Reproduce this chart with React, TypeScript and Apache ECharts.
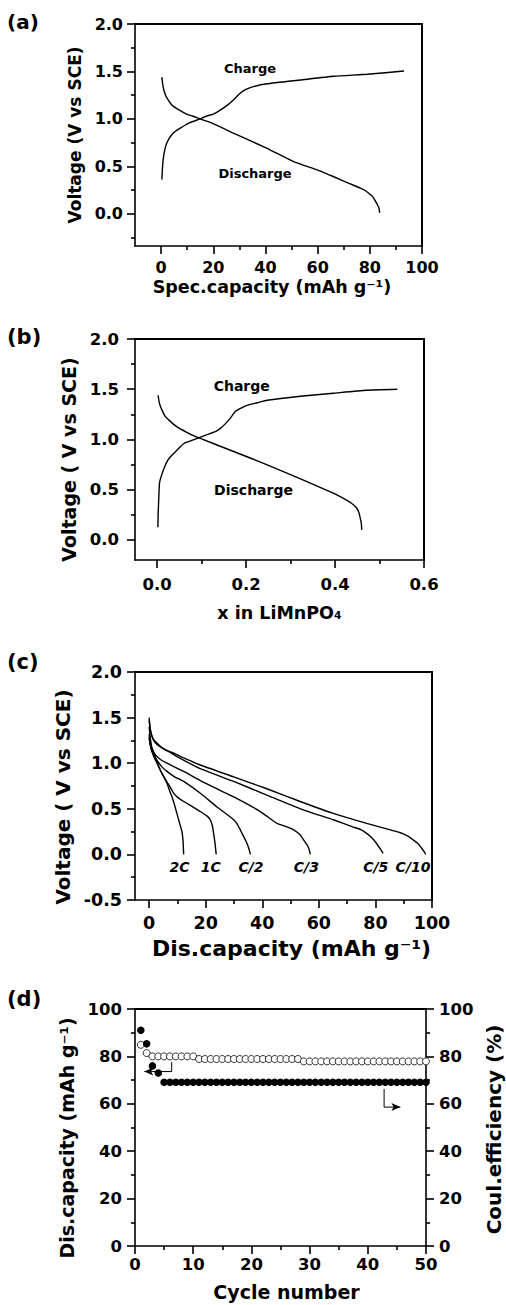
import React, { useEffect, useRef } from "react";
import * as echarts from "echarts";

const FONT = "DejaVu Sans";
const BLACK = "#000";

// ---------- Panel (a): voltage vs specific capacity ----------
const aChargeCap = [0.3, 0.5, 0.8, 1.3, 2.1, 3.0, 4.0, 5.5, 7.2, 9.0, 11.0, 13.0, 14.9, 17.5, 20.0, 22.5, 25.2, 27.7, 30.3, 32.5, 35.4, 40.6, 53.4, 66.2, 79.0, 93.1];
const aChargeV = [0.36, 0.47, 0.57, 0.66, 0.74, 0.79, 0.83, 0.87, 0.9, 0.93, 0.96, 0.98, 1.0, 1.03, 1.05, 1.09, 1.14, 1.2, 1.27, 1.31, 1.34, 1.37, 1.41, 1.45, 1.47, 1.505];
const aDischCap = [0.3, 0.6, 1.0, 1.7, 2.7, 4.0, 5.9, 7.8, 9.8, 12.0, 14.9, 20.0, 27.7, 40.6, 50.8, 60.0, 66.2, 72.0, 76.4, 78.5, 80.3, 81.4, 82.2, 83.0, 83.5, 83.8];
const aDischV = [1.44, 1.37, 1.31, 1.25, 1.2, 1.15, 1.11, 1.08, 1.05, 1.03, 1.0, 0.95, 0.85, 0.69, 0.55, 0.46, 0.39, 0.32, 0.27, 0.24, 0.2, 0.17, 0.13, 0.09, 0.06, 0.01];
const aLabelText = ["Charge", "Discharge"];
const aLabelX = [34.1, 36.0];
const aLabelY = [1.526, 0.42];

// ---------- Panel (b): voltage vs x in LiMnPO4 ----------
const bChargeX = [0.0015, 0.002, 0.003, 0.005, 0.008, 0.011, 0.016, 0.022, 0.03, 0.037, 0.048, 0.06, 0.075, 0.09, 0.105, 0.12, 0.132, 0.142, 0.153, 0.164, 0.176, 0.19, 0.202, 0.225, 0.247, 0.322, 0.396, 0.47, 0.54];
const bChargeV = [0.126, 0.25, 0.365, 0.565, 0.62, 0.66, 0.72, 0.78, 0.83, 0.86, 0.91, 0.96, 0.985, 1.01, 1.035, 1.06, 1.08, 1.11, 1.155, 1.21, 1.28, 1.315, 1.34, 1.365, 1.39, 1.43, 1.46, 1.49, 1.5];
const bDischX = [0.002, 0.004, 0.007, 0.012, 0.018, 0.027, 0.037, 0.05, 0.067, 0.08, 0.097, 0.172, 0.246, 0.321, 0.396, 0.42, 0.437, 0.448, 0.453, 0.456, 0.459, 0.46];
const bDischV = [1.44, 1.38, 1.33, 1.28, 1.23, 1.19, 1.15, 1.11, 1.07, 1.04, 1.01, 0.88, 0.75, 0.61, 0.465, 0.41, 0.365, 0.32, 0.28, 0.23, 0.166, 0.1];
const bLabelText = ["Charge", "Discharge"];
const bLabelX = [0.19, 0.2166];
const bLabelY = [1.535, 0.495];

// ---------- Panel (c): discharge curves at several rates ----------
const cC10Cap = [0, 0.2, 0.5, 1.0, 1.6, 2.6, 4.0, 6.0, 8.7, 12.0, 18.1, 29.9, 41.6, 53.4, 65.1, 76.9, 84.0, 88.6, 91.5, 93.3, 95.0, 96.3, 97.2, 97.8];
const cC10V = [1.5, 1.43, 1.36, 1.3, 1.25, 1.21, 1.18, 1.14, 1.11, 1.06, 0.98, 0.85, 0.72, 0.58, 0.45, 0.34, 0.28, 0.24, 0.2, 0.16, 0.12, 0.07, 0.03, 0.0];
const cC5Cap = [0, 0.3, 0.7, 1.5, 2.8, 4.5, 6.3, 10.0, 18.1, 29.9, 41.6, 53.4, 65.1, 72.2, 75.0, 76.9, 78.8, 80.4, 81.7, 82.7];
const cC5V = [1.47, 1.39, 1.32, 1.26, 1.22, 1.17, 1.14, 1.07, 0.94, 0.8, 0.65, 0.5, 0.38, 0.3, 0.27, 0.23, 0.18, 0.12, 0.06, 0.01];
const cC3Cap = [0, 0.4, 0.9, 1.8, 2.8, 4.5, 6.3, 12.2, 18.1, 29.9, 39.3, 45.2, 48.0, 51.1, 53.2, 54.6, 55.7, 56.4, 57.0];
const cC3V = [1.4, 1.28, 1.18, 1.11, 1.07, 1.03, 1.0, 0.91, 0.81, 0.63, 0.47, 0.34, 0.31, 0.27, 0.22, 0.16, 0.11, 0.07, 0.0];
const cC2Cap = [0, 0.4, 0.9, 1.8, 2.8, 4.5, 6.3, 9.0, 12.2, 18.1, 24.0, 29.9, 31.2, 32.2, 33.5, 34.6, 35.3, 35.8];
const cC2V = [1.32, 1.22, 1.14, 1.08, 1.03, 0.96, 0.91, 0.85, 0.8, 0.67, 0.52, 0.38, 0.33, 0.27, 0.19, 0.12, 0.06, 0.0];
const c1CCap = [0, 0.4, 0.9, 1.8, 2.8, 4.0, 5.2, 7.0, 8.7, 10.3, 12.2, 15.0, 18.1, 20.5, 21.6, 22.3, 22.8, 23.3, 23.7];
const c1CV = [1.29, 1.2, 1.14, 1.06, 1.0, 0.92, 0.85, 0.76, 0.67, 0.62, 0.58, 0.53, 0.47, 0.42, 0.38, 0.32, 0.23, 0.12, 0.0];
const c2CCap = [0, 0.6, 1.6, 2.8, 4.0, 5.2, 6.3, 7.2, 8.1, 9.0, 9.8, 10.7, 11.6, 12.0, 12.2];
const c2CV = [1.27, 1.18, 1.11, 1.01, 0.92, 0.85, 0.78, 0.7, 0.63, 0.54, 0.45, 0.35, 0.25, 0.14, 0.0];
const cRateLabels = ["2C", "1C", "C/2", "C/3", "C/5", "C/10"];
const cRateLabelX = [10.75, 21.8, 36.0, 55.6, 80.1, 93.3];
const cRateLabelY = [-0.136, -0.136, -0.136, -0.136, -0.136, -0.136];

// ---------- Panel (d): cycling ----------
const dCycles = [
  1, 2, 3, 4, 5, 6, 7, 8, 9, 10,
  11, 12, 13, 14, 15, 16, 17, 18, 19, 20,
  21, 22, 23, 24, 25, 26, 27, 28, 29, 30,
  31, 32, 33, 34, 35, 36, 37, 38, 39, 40,
  41, 42, 43, 44, 45, 46, 47, 48, 49, 50,
];
const dCapacity = [
  91.0, 85.3, 76.0, 73.0, 69.1, 69.1, 69.1, 69.1, 69.1, 69.1,
  69.1, 69.1, 69.1, 69.1, 69.1, 69.1, 69.1, 69.1, 69.1, 69.1,
  69.1, 69.1, 69.1, 69.1, 69.1, 69.1, 69.1, 69.1, 69.1, 69.1,
  69.1, 69.1, 69.1, 69.1, 69.1, 69.1, 69.1, 69.1, 69.1, 69.1,
  69.1, 69.1, 69.1, 69.1, 69.1, 69.1, 69.1, 69.1, 69.1, 69.1,
];
const dEfficiency = [
  84.9, 81.4, 80.0, 80.0, 80.0, 80.0, 80.0, 80.0, 80.0, 80.0,
  78.9, 78.9, 78.9, 78.9, 78.9, 78.9, 78.9, 78.9, 78.9, 78.9,
  78.9, 78.9, 78.9, 78.9, 78.9, 78.9, 78.9, 78.9, 77.9, 77.9,
  77.9, 77.9, 77.9, 77.9, 77.9, 77.9, 77.9, 77.9, 77.9, 77.9,
  77.9, 77.9, 77.9, 77.9, 77.9, 77.9, 77.9, 77.9, 77.9, 77.9,
];
// indicator arrows (cycle, value)
const dLeftArrowX = [6.3, 6.3, 1.6];
const dLeftArrowY = [77.6, 73.6, 73.6];
const dRightArrowX = [42.8, 42.8, 45.6];
const dRightArrowY = [66.2, 58.6, 58.6];

// ---------- Tick values ----------
const aXMajor = [0, 20, 40, 60, 80, 100];
const aXMinor = [10, 30, 50, 70, 90];
const aYMajor = [0, 0.5, 1.0, 1.5, 2.0];
const aYMinor = [-0.25, 0.25, 0.75, 1.25, 1.75];
const bXMajor = [0, 0.2, 0.4, 0.6];
const bXMinor = [0.1, 0.3, 0.5];
const bYMajor = [0, 0.5, 1.0, 1.5, 2.0];
const bYMinor = [0.25, 0.75, 1.25, 1.75];
const cXMajor = [0, 20, 40, 60, 80, 100];
const cXMinor = [10, 30, 50, 70, 90];
const cYMajor = [-0.5, 0, 0.5, 1.0, 1.5, 2.0];
const cYMinor = [-0.25, 0.25, 0.75, 1.25, 1.75];
const dXMajor = [0, 10, 20, 30, 40, 50];
const dXMinor = [5, 15, 25, 35, 45];
const dYMajor = [0, 20, 40, 60, 80, 100];
const dYMinor = [10, 30, 50, 70, 90];

const pairs = (xs: number[], ys: number[]) => xs.map((x, i) => [x, ys[i]]);

type AxisSpec = {
  grid: number;
  min: number;
  max: number;
  position: string;
  majors: number[];
  minors: number[];
  fmt: (v: number) => string;
  fontSize: number;
  margin: number;
  name: string;
  nameGap: number;
  nameSize: number;
  namePadding?: number[];
  nameRotate?: number;
};

const AXIS_LINE = { color: BLACK, width: 1.6 };

function buildAxis(s: AxisSpec) {
  const main: any = {
    type: "value",
    gridIndex: s.grid,
    min: s.min,
    max: s.max,
    position: s.position,
    axisLine: { show: true, onZero: false, lineStyle: AXIS_LINE },
    axisTick: { show: true, inside: false, length: 8, customValues: s.majors, lineStyle: AXIS_LINE },
    axisLabel: {
      show: true,
      customValues: s.majors,
      margin: s.margin,
      fontSize: s.fontSize,
      fontWeight: "bold",
      fontFamily: FONT,
      color: BLACK,
      formatter: s.fmt,
    },
    splitLine: { show: false },
    name: s.name,
    nameLocation: "middle",
    nameGap: s.nameGap,
    nameTextStyle: {
      fontSize: s.nameSize,
      fontWeight: "bold",
      fontFamily: FONT,
      color: BLACK,
      padding: s.namePadding || [0, 0, 0, 0],
    },
  };
  if (s.nameRotate !== undefined) main.nameRotate = s.nameRotate;
  const minor = {
    type: "value",
    gridIndex: s.grid,
    min: s.min,
    max: s.max,
    position: s.position,
    axisLine: { show: false, onZero: false },
    axisTick: { show: true, inside: false, length: 4, customValues: s.minors, lineStyle: AXIS_LINE },
    axisLabel: { show: false },
    splitLine: { show: false },
  };
  return [main, minor];
}

// plain frame axis (top / right border of each panel)
function frameAxis(grid: number, min: number, max: number, position: string) {
  return {
    type: "value",
    gridIndex: grid,
    min,
    max,
    position,
    axisLine: { show: true, onZero: false, lineStyle: AXIS_LINE },
    axisTick: { show: false },
    axisLabel: { show: false },
    splitLine: { show: false },
  };
}

const f1 = (v: number) => v.toFixed(1);
const f0 = (v: number) => String(Math.round(v));

function curve(x: number, y: number, data: number[][]) {
  return {
    type: "line",
    xAxisIndex: x,
    yAxisIndex: y,
    data,
    showSymbol: false,
    symbol: "none",
    silent: true,
    smooth: 0.15,
    clip: false,
    lineStyle: { color: BLACK, width: 1.4 },
  };
}

function labels(x: number, y: number, xs: number[], ys: number[], texts: string[], size: number, italic: boolean) {
  return {
    type: "scatter",
    xAxisIndex: x,
    yAxisIndex: y,
    symbol: "circle",
    symbolSize: 1,
    silent: true,
    clip: false,
    itemStyle: { color: "rgba(0,0,0,0)", opacity: 1 },
    data: xs.map((v, i) => ({ name: texts[i], value: [v, ys[i]] })),
    label: {
      show: true,
      position: "inside",
      formatter: (p: any) => p.name,
      fontSize: size,
      fontWeight: "bold",
      fontStyle: italic ? "italic" : "normal",
      fontFamily: FONT,
      color: BLACK,
      opacity: 1,
    },
    z: 5,
  };
}

function arrow(x: number, y: number, xs: number[], ys: number[], rotate: number) {
  const data: any[] = xs.map((v, i) => [v, ys[i]]);
  const last = data.length - 1;
  data[last] = { value: data[last], symbol: "arrow", symbolSize: [6, 9], symbolRotate: rotate };
  return {
    type: "line",
    xAxisIndex: x,
    yAxisIndex: y,
    data,
    symbol: "circle",
    symbolSize: 0,
    showSymbol: true,
    silent: true,
    clip: false,
    lineStyle: { color: BLACK, width: 1 },
    itemStyle: { color: BLACK, borderWidth: 0, opacity: 1 },
    z: 4,
  };
}

const GRID_BOXES = [
  { left: 135, top: 24, width: 287, height: 222 },
  { left: 135, top: 339, width: 289, height: 221 },
  { left: 135, top: 672, width: 297, height: 228 },
  { left: 135, top: 1009, width: 291, height: 237 },
];

function buildOption() {
  const grids = GRID_BOXES.map((g) => ({ ...g, show: false, outerBoundsMode: "none", containLabel: false }));

  const xAxis = [
    ...buildAxis({ grid: 0, min: -10, max: 100, position: "bottom", majors: aXMajor, minors: aXMinor, fmt: f0, fontSize: 16, margin: 13, name: "Spec.capacity (mAh g⁻¹)", nameGap: 32, nameSize: 17.5, namePadding: [0, 13, 0, 0] }),
    ...buildAxis({ grid: 1, min: -0.05, max: 0.6, position: "bottom", majors: bXMajor, minors: bXMinor, fmt: f1, fontSize: 16.5, margin: 16, name: "x in LiMnPO₄", nameGap: 44, nameSize: 17.5 }),
    ...buildAxis({ grid: 2, min: -5, max: 100, position: "bottom", majors: cXMajor, minors: cXMinor, fmt: f0, fontSize: 17.5, margin: 14, name: "Dis.capacity (mAh g⁻¹)", nameGap: 37, nameSize: 22, namePadding: [0, 0, 0, 16] }),
    ...buildAxis({ grid: 3, min: 0, max: 50, position: "bottom", majors: dXMajor, minors: dXMinor, fmt: f0, fontSize: 16.5, margin: 10, name: "Cycle number", nameGap: 36, nameSize: 19, namePadding: [0, 0, 0, 12] }),
    frameAxis(0, -10, 100, "top"),
    frameAxis(1, -0.05, 0.6, "top"),
    frameAxis(2, -5, 100, "top"),
    frameAxis(3, 0, 50, "top"),
  ];
  const yAxis = [
    ...buildAxis({ grid: 0, min: -0.34, max: 2.0, position: "left", majors: aYMajor, minors: aYMinor, fmt: f1, fontSize: 16, margin: 12, name: "Voltage (V vs SCE)", nameGap: 52, nameSize: 17, nameRotate: 90 }),
    ...buildAxis({ grid: 1, min: -0.2, max: 2.0, position: "left", majors: bYMajor, minors: bYMinor, fmt: f1, fontSize: 16.5, margin: 16, name: "Voltage ( V vs SCE)", nameGap: 54, nameSize: 19, nameRotate: 90, namePadding: [0, 20, 0, 0] }),
    ...buildAxis({ grid: 2, min: -0.5, max: 2.0, position: "left", majors: cYMajor, minors: cYMinor, fmt: f1, fontSize: 17.5, margin: 13, name: "Voltage ( V vs SCE)", nameGap: 62, nameSize: 20, nameRotate: 90, namePadding: [0, 22, 0, 0] }),
    ...buildAxis({ grid: 3, min: 0, max: 100, position: "left", majors: dYMajor, minors: dYMinor, fmt: f0, fontSize: 16.5, margin: 13, name: "Dis.capacity (mAh g⁻¹)", nameGap: 54, nameSize: 19, nameRotate: 90, namePadding: [0, 21, 0, 0] }),
    ...buildAxis({ grid: 3, min: 0, max: 100, position: "right", majors: dYMajor, minors: dYMinor, fmt: f0, fontSize: 16.5, margin: 13, name: "Coul.efficiency (%)", nameGap: 43, nameSize: 20, nameRotate: 90, namePadding: [0, 4, 0, 0] }),
    frameAxis(0, -0.34, 2.0, "right"),
    frameAxis(1, -0.2, 2.0, "right"),
    frameAxis(2, -0.5, 2.0, "right"),
  ];

  const series: any[] = [
    curve(0, 0, pairs(aChargeCap, aChargeV)),
    curve(0, 0, pairs(aDischCap, aDischV)),
    labels(0, 0, aLabelX, aLabelY, aLabelText, 13, false),

    curve(2, 2, pairs(bChargeX, bChargeV)),
    curve(2, 2, pairs(bDischX, bDischV)),
    labels(2, 2, bLabelX, bLabelY, bLabelText, 14, false),

    curve(4, 4, pairs(cC10Cap, cC10V)),
    curve(4, 4, pairs(cC5Cap, cC5V)),
    curve(4, 4, pairs(cC3Cap, cC3V)),
    curve(4, 4, pairs(cC2Cap, cC2V)),
    curve(4, 4, pairs(c1CCap, c1CV)),
    curve(4, 4, pairs(c2CCap, c2CV)),
    labels(4, 4, cRateLabelX, cRateLabelY, cRateLabels, 14, true),

    {
      type: "scatter",
      xAxisIndex: 6,
      yAxisIndex: 8,
      data: pairs(dCycles, dEfficiency),
      symbol: "circle",
      symbolSize: 7,
      silent: true,
      clip: false,
      itemStyle: { color: "#fff", borderColor: BLACK, borderWidth: 0.8, opacity: 1 },
      z: 3,
    },
    {
      type: "scatter",
      xAxisIndex: 6,
      yAxisIndex: 6,
      data: pairs(dCycles, dCapacity),
      symbol: "circle",
      symbolSize: 7.5,
      silent: true,
      clip: false,
      itemStyle: { color: BLACK, opacity: 1 },
      z: 4,
    },
    arrow(6, 6, dLeftArrowX, dLeftArrowY, 90),
    arrow(6, 6, dRightArrowX, dRightArrowY, -90),
  ];

  const panelLabel = (text: string, x: number, y: number, size: number) => ({
    type: "text",
    x,
    y,
    silent: true,
    style: { text, font: `bold ${size}px "${FONT}"`, fill: BLACK, align: "left", verticalAlign: "top" },
  });

  // top and right border of each panel frame, as thin filled bars
  const frames: any[] = [];
  GRID_BOXES.forEach((g, i) => {
    const l = g.left, t = g.top, r = g.left + g.width, b = g.top + g.height;
    frames.push({ type: "rect", silent: true, z: 20, shape: { x: l - 1, y: t - 1, width: g.width + 2, height: 2 }, style: { fill: BLACK } });
    if (i !== 3) {
      frames.push({ type: "rect", silent: true, z: 20, shape: { x: r - 1, y: t - 1, width: 2, height: b - t + 2 }, style: { fill: BLACK } });
    }
  });

  return {
    animation: false,
    backgroundColor: "#fff",
    textStyle: { fontFamily: FONT, fontWeight: "bold", color: BLACK },
    grid: grids,
    xAxis,
    yAxis,
    series,
    graphic: [
      ...frames,
      panelLabel("(a)", 7, 12, 20),
      panelLabel("(b)", 7, 326, 21),
      panelLabel("(c)", 7, 651, 21),
      panelLabel("(d)", 7, 988, 21),
    ],
  };
}

export default function App() {
  const ref = useRef<HTMLDivElement>(null);
  useEffect(() => {
    if (!ref.current) return;
    const chart = echarts.init(ref.current, undefined, { renderer: "svg" });
    chart.setOption(buildOption() as any);
    return () => chart.dispose();
  }, []);
  return (
    <div
      ref={ref}
      style={{ position: "absolute", left: 0, top: 0, width: 506, height: 1305, background: "#fff" }}
    />
  );
}
